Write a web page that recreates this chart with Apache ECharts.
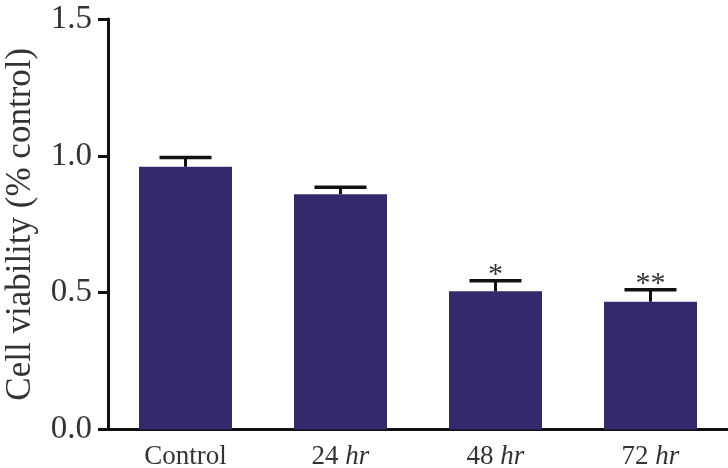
<!DOCTYPE html>
<html><head><meta charset="utf-8">
<script src="https://cdn.jsdelivr.net/npm/echarts@6/dist/echarts.min.js"></script>
<style>html,body{margin:0;padding:0;background:#fff}#c{width:728px;height:468px}</style>
</head><body><div id="c"></div>
<script>
var categories = ['Control', '24 hr', '48 hr', '72 hr'];
var viability = [0.960, 0.860, 0.505, 0.467];
var errors = [0.034, 0.025, 0.039, 0.044];
var significance = ['', '', '*', '**'];
var yTicks = [0.0, 0.5, 1.0, 1.5];

var chart = echarts.init(document.getElementById('c'));
var serif = 'Liberation Serif, Times New Roman, serif';
var errData = categories.map(function (c, i) { return [i, viability[i], viability[i] + errors[i], significance[i]]; });

chart.setOption({
  animation: false,
  grid: { left: 108, right: 0, top: 19, bottom: 38.5, containLabel: false, outerBoundsMode: 'none' },
  xAxis: {
    type: 'category', data: categories,
    axisLine: { lineStyle: { color: '#111', width: 3 } },
    axisTick: { alignWithLabel: true, length: 10, lineStyle: { color: '#111', width: 3 } },
    axisLabel: {
      margin: 14, fontFamily: serif, fontSize: 27, color: '#333',
      formatter: function (v) {
        var p = v.split(' ');
        return p.length > 1 ? p[0] + ' {i|' + p[1] + '}' : v;
      },
      rich: { i: { fontFamily: serif, fontSize: 27, fontStyle: 'italic', color: '#333' } }
    }
  },
  yAxis: {
    type: 'value', min: yTicks[0], max: yTicks[yTicks.length - 1], interval: 0.5,
    name: 'Cell viability (% control)', nameLocation: 'middle', nameGap: 70,
    nameTextStyle: { fontFamily: serif, fontSize: 35, color: '#333' },
    splitLine: { show: false },
    axisLine: { show: true, lineStyle: { color: '#111', width: 3 } },
    axisTick: { show: true, length: 10, lineStyle: { color: '#111', width: 3 } },
    axisLabel: { margin: 16, fontFamily: serif, fontSize: 33, color: '#333',
      formatter: function (v) { return v.toFixed(1); } }
  },
  series: [{
    type: 'bar', data: viability, barWidth: 93,
    itemStyle: { color: '#33296d' }
  }, {
    type: 'custom', data: errData, z: 5,
    renderItem: function (params, api) {
      var x = api.value(0);
      var base = api.coord([x, api.value(1)]);
      var top = api.coord([x, api.value(2)]);
      var half = 26;
      var sig = significance[params.dataIndex];
      var children = [
        { type: 'line', shape: { x1: base[0], y1: base[1], x2: top[0], y2: top[1] }, style: { stroke: '#111', lineWidth: 3 } },
        { type: 'line', shape: { x1: top[0] - half, y1: top[1], x2: top[0] + half, y2: top[1] }, style: { stroke: '#111', lineWidth: 3.5 } }
      ];
      if (sig) {
        children.push({ type: 'text', style: { text: sig, x: top[0], y: top[1] + 9, textAlign: 'center', textVerticalAlign: 'bottom', fontFamily: serif, fontSize: 30, fill: '#333' } });
      }
      return { type: 'group', children: children };
    }
  }]
});
</script></body></html>
